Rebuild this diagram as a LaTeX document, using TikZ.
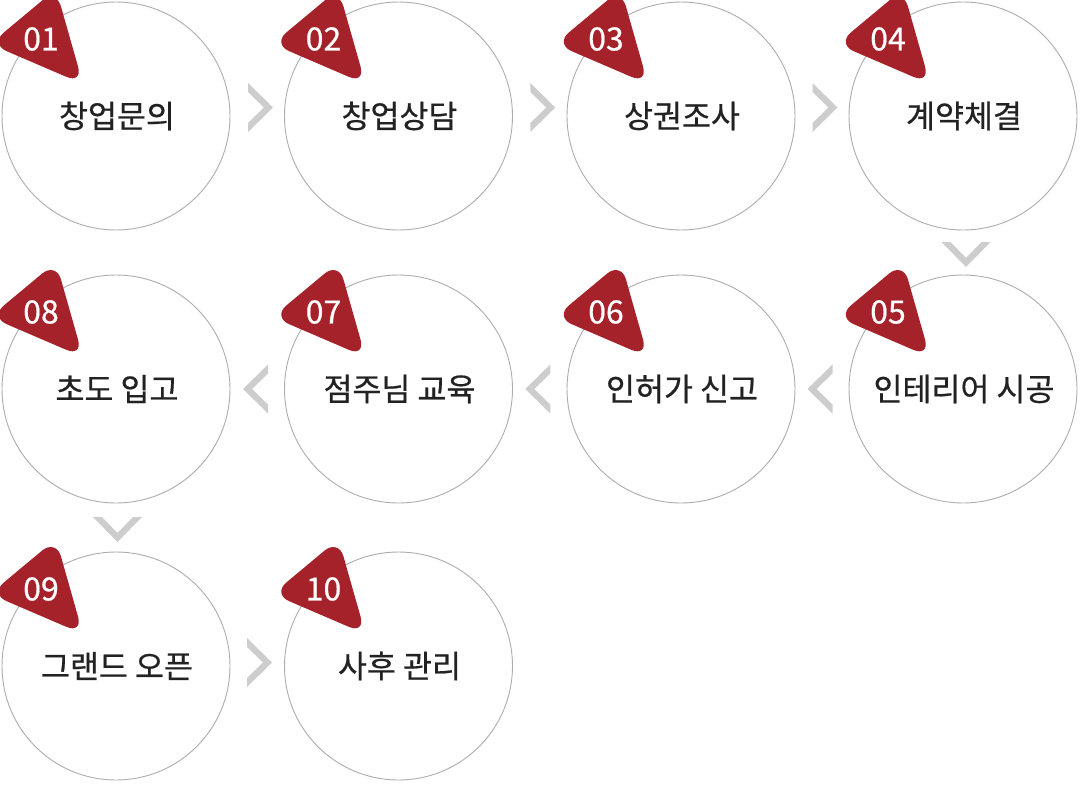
\documentclass[tikz,border=0pt]{standalone}
\usepackage{fontspec}
\newfontfamily\kr[FakeBold=0.6]{Noto Sans CJK KR}
\definecolor{badge}{HTML}{A6222A}
\definecolor{ring}{HTML}{ADADAD}
\definecolor{chev}{HTML}{CDCDCD}
\definecolor{txt}{HTML}{222222}
\tikzset{
  stepcircle/.style={circle, draw=ring, line width=0.9pt, minimum size=228pt, inner sep=0pt},
  steptext/.style={font=\kr\fontsize{31.5}{36}\selectfont, text=txt, inner sep=0pt},
  badgefill/.style={fill=badge, rounded corners=18pt},
  numlabel/.style={font=\kr\fontsize{32}{36}\selectfont, text=white, inner sep=0pt},
  chevfill/.style={fill=chev},
}
\begin{document}
\begin{tikzpicture}[x=1pt,y=-1pt]
\useasboundingbox[fill=white] (0,0) rectangle (1080,785);
\foreach \n/\x/\y/\t in {01/116/116/창업문의, 02/398.5/116/창업상담, 03/681/116/상권조사, 04/963/116/계약체결,
  05/963/389/인테리어 시공, 06/681/389/인허가 신고, 07/398.5/389/점주님 교육, 08/116/389/초도 입고,
  09/116/666/그랜드 오픈, 10/398.5/666/사후 관리} {
  \node[stepcircle] (c\n) at (\x,\y) {};
  \fill[badgefill] (\x-93,\y-99.5) -- (\x-60,\y-127) -- (\x-33,\y-32) -- (\x-126,\y-72) -- cycle;
  \node[numlabel] (n\n) at (\x-75,\y-77) {\n};
  \node[steptext] (t\n) at (\x+1,\y) {\t};
}
% right-pointing chevrons
\foreach \cx/\cy in {260.5/107.5, 542.8/107.5, 825/107.5, 259.5/662.5} {
  \fill[chevfill] (\cx-12.5,\cy-24.5) -- (\cx+12.5,\cy) -- (\cx-12.5,\cy+24.5) -- (\cx-12.5,\cy+15.5) -- (\cx+3.5,\cy) -- (\cx-12.5,\cy-15.5) -- cycle;
}
% left-pointing chevrons
\foreach \cx/\cy in {255.5/389, 537.8/389, 820/389} {
  \fill[chevfill] (\cx+12.5,\cy-24.5) -- (\cx-12.5,\cy) -- (\cx+12.5,\cy+24.5) -- (\cx+12.5,\cy+15.5) -- (\cx-3.5,\cy) -- (\cx+12.5,\cy-15.5) -- cycle;
}
% down-pointing chevrons
\foreach \cx/\cy in {966/254.5, 117.5/529.5} {
  \fill[chevfill] (\cx-24.5,\cy-12.5) -- (\cx,\cy+12.5) -- (\cx+24.5,\cy-12.5) -- (\cx+15.5,\cy-12.5) -- (\cx,\cy+3.5) -- (\cx-15.5,\cy-12.5) -- cycle;
}
\end{tikzpicture}
\end{document}
